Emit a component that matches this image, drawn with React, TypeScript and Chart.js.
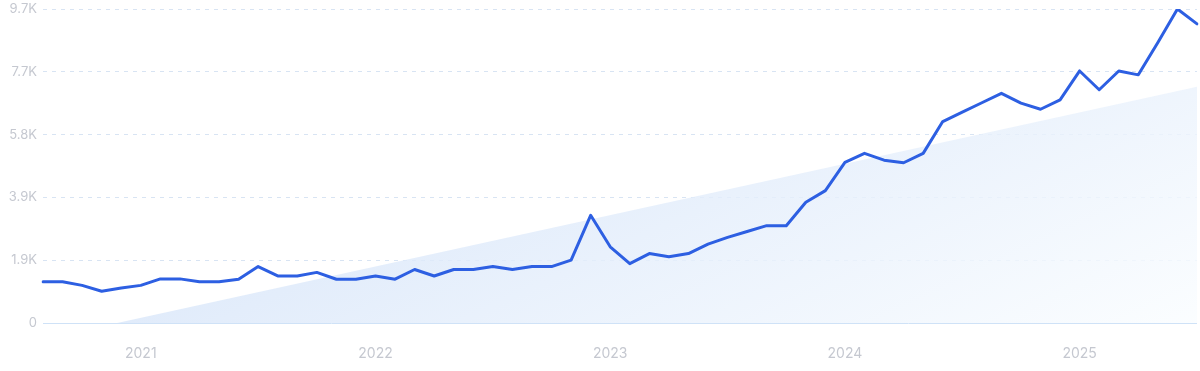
import React, { useEffect, useRef } from "react";
import { Chart, registerables } from "chart.js";

Chart.register(...registerables);

const monthLabels: string[] = [
  "Aug 2020", "Sep 2020", "Oct 2020", "Nov 2020", "Dec 2020",
  "Jan 2021", "Feb 2021", "Mar 2021", "Apr 2021", "May 2021", "Jun 2021",
  "Jul 2021", "Aug 2021", "Sep 2021", "Oct 2021", "Nov 2021", "Dec 2021",
  "Jan 2022", "Feb 2022", "Mar 2022", "Apr 2022", "May 2022", "Jun 2022",
  "Jul 2022", "Aug 2022", "Sep 2022", "Oct 2022", "Nov 2022", "Dec 2022",
  "Jan 2023", "Feb 2023", "Mar 2023", "Apr 2023", "May 2023", "Jun 2023",
  "Jul 2023", "Aug 2023", "Sep 2023", "Oct 2023", "Nov 2023", "Dec 2023",
  "Jan 2024", "Feb 2024", "Mar 2024", "Apr 2024", "May 2024", "Jun 2024",
  "Jul 2024", "Aug 2024", "Sep 2024", "Oct 2024", "Nov 2024", "Dec 2024",
  "Jan 2025", "Feb 2025", "Mar 2025", "Apr 2025", "May 2025", "Jun 2025",
  "Jul 2025",
];

const searchVolume: number[] = [
  1270, 1270, 1160, 980, 1080,
  1160, 1360, 1360, 1270, 1270, 1350,
  1740, 1450, 1450, 1560, 1350, 1350,
  1450, 1350, 1650, 1450, 1650, 1650,
  1740, 1650, 1740, 1740, 1940, 3320,
  2350, 1830, 2140, 2040, 2140, 2430,
  2640, 2820, 3000, 3000, 3720, 4080,
  4950, 5230, 5020, 4940, 5230, 6210,
  6500, 6790, 7080, 6780, 6590, 6880,
  7770, 7190, 7770, 7650, 8650, 9680,
  9220,
];

// trend line: endpoints only
const trendPoints = [
  { x: "Aug 2020", y: -500 },
  { x: "Jul 2025", y: 7280 },
];

const yMax = 9680;
const yStep = 1936;

function formatK(v: number): string {
  if (v === 0) return "0";
  return (v / 1000).toFixed(1) + "K";
}

export default function App() {
  const canvasRef = useRef<HTMLCanvasElement | null>(null);

  useEffect(() => {
    document.body.style.margin = "0";
    const canvas = canvasRef.current;
    if (!canvas) return;

    const chart = new Chart(canvas, {
      type: "line",
      data: {
        labels: monthLabels,
        datasets: [
          {
            label: "Volume",
            data: searchVolume,
            borderColor: "#2d5fe2",
            borderWidth: 3,
            pointRadius: 0,
            tension: 0,
            fill: false,
            borderCapStyle: "round",
            borderJoinStyle: "round",
          },
          {
            label: "Trend",
            data: trendPoints as any,
            borderWidth: 0,
            borderColor: "rgba(0,0,0,0)",
            pointRadius: 0,
            tension: 0,
            spanGaps: true,
            fill: "origin",
            clip: 0 as any,
            backgroundColor: (ctx: any) => {
              const chart = ctx.chart;
              const area = chart.chartArea;
              if (!area) return "rgba(220,233,250,0.8)";
              const g = chart.ctx.createLinearGradient(
                area.left,
                area.top,
                area.left + 330,
                area.top + 702
              );
              g.addColorStop(0, "rgba(196,216,246,0.82)");
              g.addColorStop(1, "rgba(250,253,255,0.82)");
              return g;
            },
          },
        ],
      },
      options: {
        animation: false,
        responsive: false,
        devicePixelRatio: 1,
        layout: { padding: { top: 9, right: 3, left: 0, bottom: 0 } },
        plugins: {
          legend: { display: false },
          tooltip: { enabled: false },
        },
        scales: {
          x: {
            type: "category",
            offset: false,
            grid: { display: false, drawTicks: false },
            border: { display: false },
            ticks: {
              autoSkip: false,
              maxRotation: 0,
              minRotation: 0,
              padding: 22,
              color: "#c5c8d0",
              font: { family: "Inter", size: 14 },
              callback: function (_v: any, idx: number) {
                const l = monthLabels[idx];
                return l.startsWith("Jan") ? l.slice(4) : "";
              },
            },
            afterFit: (scale: any) => {
              scale.height = 48;
              scale.paddingLeft = 0;
              scale.paddingRight = 0;
            },
          },
          y: {
            min: 0,
            max: yMax,
            grid: {
              drawTicks: false,
              color: (ctx: any) =>
                ctx.tick && ctx.tick.value === 0 ? "#cfe2f7" : "#d8e4f3",
              lineWidth: 1,
            },
            border: {
              display: false,
              dash: (ctx: any) =>
                ctx.tick && ctx.tick.value === 0 ? [] : [4, 5],
            } as any,
            ticks: {
              stepSize: yStep,
              padding: 6,
              color: "#c5c8d0",
              font: { family: "Inter", size: 13 },
              callback: (v: any) => formatK(Number(v)),
            },
            afterFit: (scale: any) => {
              scale.width = 43;
              scale.paddingTop = 0;
              scale.paddingBottom = 0;
            },
          },
        },
      },
    });

    return () => {
      chart.destroy();
    };
  }, []);

  return (
    <div style={{ width: 1200, height: 371 }}>
      <canvas ref={canvasRef} width={1200} height={371} />
    </div>
  );
}
